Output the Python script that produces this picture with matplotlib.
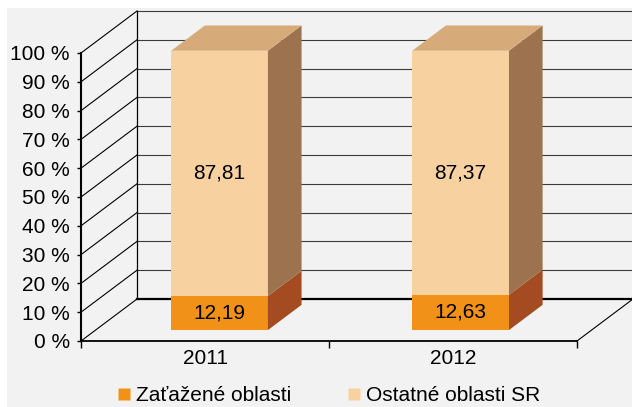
import matplotlib
matplotlib.use('Agg')
import matplotlib.pyplot as plt
from matplotlib.patches import Polygon, Rectangle
from matplotlib.lines import Line2D

# data
years = ['2011', '2012']
zatazene = [12.19, 12.63]
ostatne = [87.81, 87.37]
series_names = ['Zaťažené oblasti', 'Ostatné oblasti SR']
y_ticks = list(range(0, 101, 10))
y_labels = [f'{v} %' for v in y_ticks]

plt.rcParams['font.family'] = ['Liberation Sans', 'DejaVu Sans']
FS = 15

# colors: front / side / top
front_cols = ['#f29117', '#f8d1a0']
side_cols = ['#a44b21', '#9c734e']
top_col = '#d7ab79'

# 3d look: full depth in data units, bar placement in that depth
DX, DY = 0.226, 14.6
d0, dd = 0.26, 0.6
w = 0.39
vscale = 0.97
bar_step = 0.972

fig = plt.figure(figsize=(6.32, 4.07), dpi=100)
fig.patch.set_facecolor('white')
fig.add_artist(Rectangle((7 / 632, 0), 1, 399 / 407, transform=fig.transFigure,
                         facecolor='#f2f2f2', edgecolor='none', zorder=0))

ax = fig.add_axes([81 / 632, 66 / 407, 496 / 632, 288 / 407])
ax.set_facecolor('none')
ax.set_xlim(-0.5, 1.5)
ax.set_ylim(0, 100)

# walls
x_back0 = -0.5 + DX
x_back1 = 1.5 + DX
for v in y_ticks:
    lw = 1.6 if v == 0 else 0.8
    col = 'black' if v == 0 else '#3c3c3c'
    ax.plot([x_back0, x_back1], [v + DY, v + DY], color=col, lw=lw, clip_on=False, zorder=1)
    ax.plot([-0.5, x_back0], [v, v + DY], color='black', lw=0.8, clip_on=False, zorder=1)
ax.plot([x_back0, x_back0], [DY, 100 + DY], color='black', lw=0.9, clip_on=False, zorder=1)
ax.plot([1.5, 1.5 + DX], [0, DY], color='black', lw=0.8, clip_on=False, zorder=1)

# bars
for i, yr in enumerate(years):
    base = 0
    x0 = i * bar_step + d0 * DX - w / 2
    for k, vals in enumerate([zatazene, ostatne]):
        h = vals[i] * vscale
        yb = base * vscale + d0 * DY
        yt = yb + h
        ax.add_patch(Rectangle((x0, yb), w, h, facecolor=front_cols[k],
                               edgecolor='none', zorder=3, clip_on=False))
        ax.add_patch(Polygon([(x0 + w, yb), (x0 + w + dd * DX, yb + dd * DY),
                              (x0 + w + dd * DX, yt + dd * DY), (x0 + w, yt)],
                             closed=True, facecolor=side_cols[k], edgecolor='none',
                             zorder=3, clip_on=False))
        if k == 1:
            ax.add_patch(Polygon([(x0, yt), (x0 + dd * DX, yt + dd * DY),
                                  (x0 + w + dd * DX, yt + dd * DY), (x0 + w, yt)],
                                 closed=True, facecolor=top_col, edgecolor='none',
                                 zorder=3, clip_on=False))
        ax.text(x0 + w / 2, (yb + yt) / 2, f'{vals[i]:.2f}'.replace('.', ','),
                ha='center', va='center', fontsize=FS, color='black', zorder=4)
        base += vals[i]

# axes
for s in ['top', 'right']:
    ax.spines[s].set_visible(False)
ax.spines['left'].set_linewidth(1.5)
ax.spines['bottom'].set_linewidth(1.3)
ax.set_yticks(y_ticks)
ax.set_yticklabels(y_labels, fontsize=FS)
ax.tick_params(axis='y', length=3, width=1, pad=5)
ax.set_xticks([-0.5, 0.5, 1.5])
ax.set_xticklabels([])
ax.tick_params(axis='x', which='major', length=5, width=1)
ax.set_xticks([0, 1], minor=True)
ax.set_xticklabels(years, minor=True, fontsize=FS)
ax.tick_params(axis='x', which='minor', length=0, pad=6)

handles = [Line2D([0], [0], marker='s', color='none', markerfacecolor=front_cols[k],
                  markeredgecolor='none', markersize=8, label=series_names[k])
           for k in range(2)]
ax.legend(handles=handles, loc='center', bbox_to_anchor=(0.499, -0.19), ncol=2,
          frameon=False, fontsize=FS, handlelength=0.7, handletextpad=0.2,
          columnspacing=2.7, borderpad=0)

fig.savefig('out.png', dpi=100)
